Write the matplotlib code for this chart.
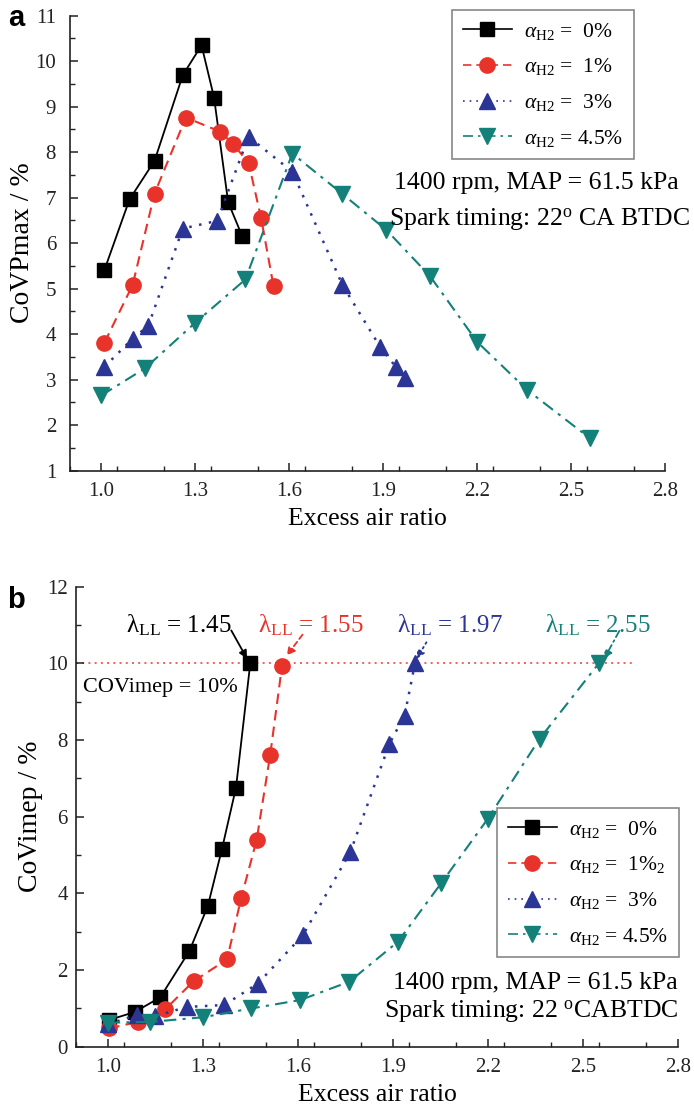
import matplotlib
matplotlib.use("Agg")
import matplotlib.pyplot as plt
from matplotlib.ticker import MultipleLocator

plt.rcParams['font.family'] = ['Liberation Serif', 'DejaVu Serif']
plt.rcParams['mathtext.fontset'] = 'custom'
plt.rcParams['mathtext.rm'] = 'Liberation Serif'
plt.rcParams['mathtext.it'] = 'Liberation Serif:italic'
plt.rcParams['mathtext.bf'] = 'Liberation Serif:bold'

# ---- (a) maximum-pressure cycle variation ----
lam_a_0 = [1.01, 1.09, 1.17, 1.26, 1.32, 1.36, 1.405, 1.45]
cov_a_0 = [5.41, 6.96, 7.81, 9.69, 10.35, 9.20, 6.90, 6.15]
lam_a_1 = [1.01, 1.10, 1.17, 1.27, 1.38, 1.42, 1.47, 1.51, 1.55]
cov_a_1 = [3.81, 5.08, 7.09, 8.76, 8.45, 8.18, 7.77, 6.56, 5.05]
lam_a_3 = [1.01, 1.10, 1.15, 1.26, 1.37, 1.47, 1.61, 1.77, 1.89, 1.94, 1.97]
cov_a_3 = [3.28, 3.90, 4.18, 6.32, 6.49, 8.34, 7.57, 5.08, 3.72, 3.28, 3.03]
lam_a_45 = [1.00, 1.14, 1.30, 1.46, 1.61, 1.77, 1.91, 2.05, 2.20, 2.36, 2.56]
cov_a_45 = [2.65, 3.25, 4.25, 5.20, 7.97, 7.08, 6.29, 5.27, 3.83, 2.77, 1.71]

# ---- (b) IMEP cycle variation ----
lam_b_0 = [1.005, 1.086, 1.166, 1.258, 1.316, 1.361, 1.405, 1.45]
cov_b_0 = [0.70, 0.91, 1.29, 2.50, 3.67, 5.17, 6.76, 10.0]
lam_b_1 = [1.005, 1.095, 1.182, 1.271, 1.377, 1.421, 1.47, 1.513, 1.55]
cov_b_1 = [0.48, 0.65, 0.98, 1.71, 2.28, 3.87, 5.39, 7.62, 9.92]
lam_b_3 = [1.00, 1.093, 1.15, 1.25, 1.368, 1.474, 1.616, 1.766, 1.889, 1.937, 1.97]
cov_b_3 = [0.59, 0.83, 0.80, 1.04, 1.09, 1.65, 2.91, 5.08, 7.90, 8.64, 10.0]
lam_b_45 = [1.00, 1.135, 1.30, 1.453, 1.608, 1.763, 1.916, 2.052, 2.20, 2.363, 2.55]
cov_b_45 = [0.63, 0.65, 0.77, 1.00, 1.22, 1.70, 2.74, 4.26, 5.95, 8.03, 10.0]

lean_limits = [1.45, 1.55, 1.97, 2.55]
covimep_limit = 10.0

labels_a = [r'$\alpha_{\mathrm{H2}}$ =  0%', r'$\alpha_{\mathrm{H2}}$ =  1%',
            r'$\alpha_{\mathrm{H2}}$ =  3%', r'$\alpha_{\mathrm{H2}}$ = 4.5%']
labels_b = [r'$\alpha_{\mathrm{H2}}$ =  0%', r'$\alpha_{\mathrm{H2}}$ =  1%$_2$',
            r'$\alpha_{\mathrm{H2}}$ =  3%', r'$\alpha_{\mathrm{H2}}$ = 4.5%']
x_ticks = [1.0, 1.3, 1.6, 1.9, 2.2, 2.5, 2.8]

BLACK = '#000000'
RED = '#e8332b'
BLUE = '#2b3596'
TEAL = '#138179'

styles = [
    dict(color=BLACK, ls='-', marker='s', ms=9.5, lw=1.3),
    dict(color=RED, ls=(0, (5, 3)), marker='o', ms=11, lw=1.5),
    dict(color=BLUE, ls=(0, (1, 3)), marker='^', ms=11.5, lw=1.8),
    dict(color=TEAL, ls=(0, (6, 3, 1.5, 3)), marker='v', ms=11.5, lw=1.5),
]

W, H = 694, 1113
fig = plt.figure(figsize=(W / 100, H / 100), dpi=100)


def px_axes(l, t, r, b):
    return fig.add_axes([l / W, 1 - b / H, (r - l) / W, (b - t) / H])


def style_axes(ax, ylim, ymaj, ymin, ypad):
    ax.set_xlim(0.9, 2.8)
    ax.set_ylim(*ylim)
    ax.set_xticks(x_ticks)
    ax.xaxis.set_minor_locator(MultipleLocator(0.15))
    ax.yaxis.set_major_locator(MultipleLocator(ymaj))
    ax.yaxis.set_minor_locator(MultipleLocator(ymin))
    ax.set_xticklabels([f'{v:.1f}' for v in x_ticks])
    for s in ('top', 'right'):
        ax.spines[s].set_visible(False)
    for s in ('left', 'bottom'):
        ax.spines[s].set_linewidth(1.2)
        ax.spines[s].set_color('#222222')
    ax.tick_params(which='major', direction='in', length=6, width=1.1,
                   labelsize=15, colors='#222222')
    ax.tick_params(axis='x', which='major', pad=8)
    ax.tick_params(axis='y', which='major', pad=ypad)
    ax.tick_params(which='minor', direction='in', length=3.5, width=1.0, colors='#222222')
    ax.set_xlabel('Excess air ratio', fontsize=18.5, labelpad=5)


def draw_series(ax, series, labels):
    handles = []
    for (x, y), st, lab in zip(series, styles, labels):
        h, = ax.plot(x, y, color=st['color'], ls=st['ls'], lw=st['lw'],
                     marker=st['marker'], ms=st['ms'], mfc=st['color'],
                     mec=st['color'], label=lab, clip_on=False)
        handles.append(h)
    return handles


def add_legend(ax, handles, right, top):
    leg = ax.legend(handles=handles, loc='upper right',
                    bbox_to_anchor=(right / W, 1 - top / H),
                    bbox_transform=fig.transFigure, fontsize=15.5, numpoints=1,
                    handlelength=2.3, handletextpad=0.55, labelspacing=0.68,
                    borderpad=0.5, fancybox=False, framealpha=1, borderaxespad=0)
    leg.get_frame().set_edgecolor('#888888')
    leg.get_frame().set_linewidth(1.2)
    for lh in leg.get_lines():
        lh.set_linewidth(1.2)
    return leg


# ---------- panel a ----------
ax1 = px_axes(70, 15.7, 665, 470.5)
style_axes(ax1, (1, 11), 1, 0.5, ypad=10)
h1 = draw_series(ax1, [(lam_a_0, cov_a_0), (lam_a_1, cov_a_1),
                       (lam_a_3, cov_a_3), (lam_a_45, cov_a_45)], labels_a)
ax1.set_ylabel('CoVPmax / %', fontsize=20, labelpad=0)
add_legend(ax1, h1, 634, 10)
ax1.text(2.388, 7.32, '1400 rpm, MAP = 61.5 kPa', fontsize=18.5, ha='center', va='center')
ax1.text(2.40, 6.51, r'Spark timing: 22$^{\mathrm{o}}$ CA BTDC', fontsize=18.5,
         ha='center', va='center')

# ---------- panel b ----------
ax2 = px_axes(76, 586.7, 678, 1046.8)
style_axes(ax2, (0, 12), 2, 1, ypad=6)
h2 = draw_series(ax2, [(lam_b_0, cov_b_0), (lam_b_1, cov_b_1),
                       (lam_b_3, cov_b_3), (lam_b_45, cov_b_45)], labels_b)
ax2.set_ylabel('CoVimep / %', fontsize=20, labelpad=3)
add_legend(ax2, h2, 679, 808)

# lean-limit criterion
ax2.plot([0.9, 2.668], [covimep_limit, covimep_limit], color='#f0605a',
         ls=(0, (1, 2.2)), lw=1.4, zorder=1)
ax2.text(0.922, 9.38, 'COVimep = 10%', fontsize=16, ha='left', va='center')

lam_text_pos = [(1.224, 11.0), (1.640, 11.0), (2.079, 11.0), (2.547, 11.0)]
arrow_from = [(1.39, 10.86), (1.615, 10.75), (2.006, 10.55), (2.615, 10.85)]
arrow_to = [(1.44, 10.12), (1.565, 10.2), (1.975, 10.12), (2.567, 10.12)]
arrow_ls = ['-', (0, (3, 2)), (0, (1, 2)), (0, (4, 2, 1, 2))]
for lam, st, tp, af, at, als in zip(lean_limits, styles, lam_text_pos,
                                    arrow_from, arrow_to, arrow_ls):
    ax2.text(tp[0], tp[1], r'$\mathrm{\lambda_{LL}}$ = ' + f'{lam:.2f}',
             fontsize=18, color=st['color'], ha='center', va='center')
    ax2.annotate('', xy=at, xytext=af,
                 arrowprops=dict(arrowstyle='-|>', color=st['color'], lw=1.3,
                                 linestyle=als, mutation_scale=12,
                                 shrinkA=0, shrinkB=0))

ax2.text(2.349, 1.66, '1400 rpm, MAP = 61.5 kPa', fontsize=18.5, ha='center', va='center')
ax2.text(2.337, 0.91, r'Spark timing: 22 $^{\mathrm{o}}$CABTDC', fontsize=18.5,
         ha='center', va='center')

# panel letters
fig.text(16 / W, 1 - 18 / H, 'a', fontsize=21, fontweight='bold',
         family='Liberation Sans', ha='center', va='center')
fig.text(16 / W, 1 - 600 / H, 'b', fontsize=21, fontweight='bold',
         family='Liberation Sans', ha='center', va='center')

fig.savefig('out.png', dpi=100)
